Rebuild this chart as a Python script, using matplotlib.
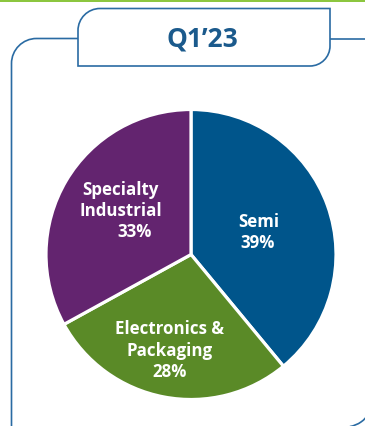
import matplotlib
matplotlib.use("Agg")
import matplotlib.pyplot as plt
from matplotlib.path import Path
from matplotlib.patches import PathPatch, Arc
import numpy as np

# Data
segments = ["Semi", "Electronics & Packaging", "Specialty Industrial"]
shares = [39, 28, 33]
colors = ["#00558B", "#5A8A27", "#63246F"]
title = "Q1\u201923"

W, H = 365, 427
fig = plt.figure(figsize=(W / 100, H / 100), dpi=100)
ax = fig.add_axes([0, 0, 1, 1])

def Y(y):
    return H - y

# Pie
ax.pie(shares, colors=colors, startangle=90, counterclock=False,
       center=(191, Y(255.5)), radius=145,
       wedgeprops=dict(edgecolor="white", linewidth=2.3))

ax.set_xlim(0, W)
ax.set_ylim(0, H)
ax.set_aspect("equal")
ax.axis("off")

font = "Open Sans"
tk = dict(color="white", fontsize=12.2, fontweight="bold", family=font,
          ha="center", va="center")
# Semi
ax.text(259, Y(222), "Semi", **tk)
ax.text(258, Y(243), f"{shares[0]}%", **tk)
# Specialty Industrial
ax.text(120, Y(190), "Specialty", **tk)
ax.text(121, Y(211), "Industrial", **tk)
ax.text(134.5, Y(232), f"{shares[2]}%", **tk)
# Electronics & Packaging
ax.text(170, Y(329), "Electronics &", **tk)
ax.text(170, Y(351), "Packaging", **tk)
ax.text(170, Y(372), f"{shares[1]}%", **tk)

lc = "#2A6BA3"
lw = 1.2

# Top green line
ax.add_patch(plt.Rectangle((0, Y(2.5)), W, 2.5, color="#8CC63F", lw=0))

# Title box: left 78, top 9.5, right 330, bottom 67; TL radius 22, BR radius 20
L, T, R, B = 78, 9.5, 330, 67
r1, r2 = 22, 20
k = 0.5523
verts = [
    (L, Y(B)),
    (L, Y(T + r1)),
    (L, Y(T + r1 - k * r1)), (L + r1 - k * r1, Y(T)), (L + r1, Y(T)),
    (R, Y(T)),
    (R, Y(B - r2)),
    (R, Y(B - r2 + k * r2)), (R - r2 + k * r2, Y(B)), (R - r2, Y(B)),
    (L, Y(B)),
]
codes = [Path.MOVETO, Path.LINETO, Path.CURVE4, Path.CURVE4, Path.CURVE4,
         Path.LINETO, Path.LINETO, Path.CURVE4, Path.CURVE4, Path.CURVE4,
         Path.CLOSEPOLY]
ax.add_patch(PathPatch(Path(verts, codes), facecolor="white", edgecolor=lc, lw=lw))

# Outer frame left part
ly = 39.5
lx = 11.5
r3 = 25
verts2 = [
    (L, Y(ly)),
    (lx + r3, Y(ly)),
    (lx + r3 - k * r3, Y(ly)), (lx, Y(ly + r3 - k * r3)), (lx, Y(ly + r3)),
    (lx, Y(H + 5)),
]
codes2 = [Path.MOVETO, Path.LINETO, Path.CURVE4, Path.CURVE4, Path.CURVE4, Path.LINETO]
ax.add_patch(PathPatch(Path(verts2, codes2), facecolor="none", edgecolor=lc, lw=lw))

# Right horizontal line
ax.plot([R, W + 5], [Y(ly), Y(ly)], color=lc, lw=lw, solid_capstyle="butt")

# Bottom-right corner arc
ax.add_patch(Arc((345, Y(400)), 56, 56, theta1=-80, theta2=-30, color=lc, lw=lw))

# Title
ax.text(202, Y(39), title, color="#1B5A8C", fontsize=19, fontweight="bold",
        family=font, ha="center", va="center")

fig.savefig("out.png", dpi=100)
